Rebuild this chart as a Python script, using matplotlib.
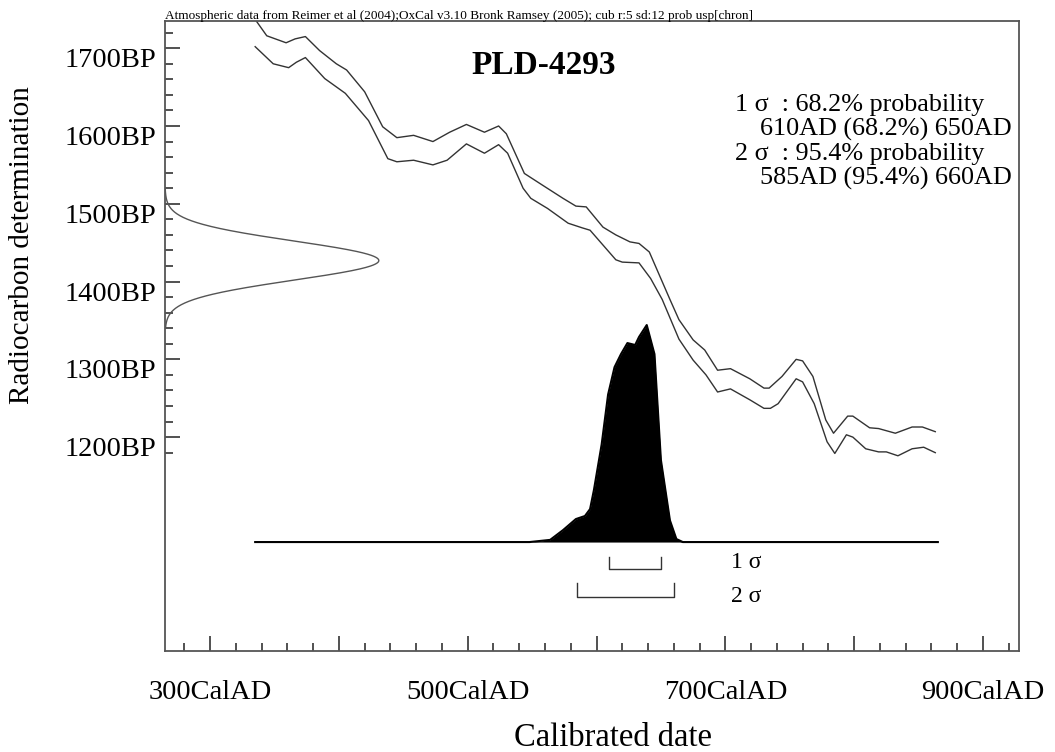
import numpy as np
import matplotlib
matplotlib.use("Agg")
import matplotlib.pyplot as plt
from matplotlib.transforms import blended_transform_factory

# ---------------- data ----------------
title = "PLD-4293"
header = ("Atmospheric data from Reimer et al (2004);OxCal v3.10 Bronk Ramsey (2005); "
          "cub r:5 sd:12 prob usp[chron]")

# radiocarbon determination (BP, 1 sd)
c14_mean = 1427
c14_sd = 25

# calibration curve, upper and lower 1-sigma envelopes (cal AD, BP)
upper_years = [335, 344, 359, 366, 374, 385, 398, 406, 420, 434, 445, 458, 473, 486, 499,
               513, 524, 530, 544, 558, 574, 584, 592, 605, 615, 626, 633, 641, 657, 664,
               675, 684, 694, 704, 719, 730, 734, 744, 755, 760, 768, 778, 784, 795, 799,
               812, 819, 832, 845, 853, 863]
upper_bp = [1737, 1716, 1707, 1712, 1715, 1697, 1680, 1672, 1644, 1599, 1585, 1588, 1580, 1592, 1602,
            1592, 1600, 1590, 1539, 1524, 1507, 1497, 1496, 1470, 1460, 1451, 1449, 1438, 1377, 1351,
            1325, 1312, 1286, 1288, 1275, 1263, 1263, 1278, 1300, 1298, 1278, 1222, 1205, 1227, 1227,
            1212, 1211, 1205, 1213, 1213, 1207]
lower_years = [335, 349, 361, 367, 374, 389, 405, 423, 438, 445, 458, 473, 484, 499, 513,
               524, 531, 543, 549, 562, 578, 589, 595, 615, 620, 633, 642, 651, 664, 675,
               685, 694, 704, 719, 730, 735, 741, 755, 760, 769, 779, 785, 794, 799, 809,
               819, 825, 834, 845, 854, 863]
lower_bp = [1702, 1680, 1675, 1682, 1688, 1661, 1642, 1607, 1558, 1554, 1556, 1550, 1556, 1577, 1565,
            1576, 1565, 1520, 1507, 1494, 1475, 1469, 1466, 1428, 1425, 1424, 1404, 1377, 1326, 1299,
            1280, 1258, 1262, 1248, 1237, 1237, 1243, 1275, 1271, 1243, 1194, 1179, 1203, 1200, 1185,
            1181, 1181, 1176, 1185, 1187, 1180]

# calibrated probability distribution (relative, %)
post_years = [335, 548, 564, 574, 584, 591, 595, 598, 604, 609, 614, 619, 624, 630, 633,
              639, 645, 650, 657, 662, 667, 865]
post_prob = [0, 0, 1, 5.5, 10.6, 12, 15.2, 24, 45, 68, 80.6, 86.6, 91.7, 90.8, 94.5,
             100, 86.6, 37.8, 10, 1.4, 0, 0]

# highest probability ranges
sigma_labels = ["1 σ", "2 σ"]
sigma_ranges = [(610, 650), (585, 660)]
summary_lines = ["1 σ  : 68.2% probability", "610AD (68.2%) 650AD",
                 "2 σ  : 95.4% probability", "585AD (95.4%) 660AD"]

x_major = [300, 400, 500, 600, 700, 800, 900]
x_labels = ["300CalAD", "", "500CalAD", "", "700CalAD", "", "900CalAD"]
y_major = [1200, 1300, 1400, 1500, 1600, 1700]
y_labels = ["1200BP", "1300BP", "1400BP", "1500BP", "1600BP", "1700BP"]

# ---------------- figure ----------------
W, H = 1055, 752
plt.rcParams['font.family'] = ['Liberation Serif', 'DejaVu Serif']
fig = plt.figure(figsize=(W / 100, H / 100), dpi=100)
fig.patch.set_facecolor('white')

def fx(px):
    return px / W

def fy(py):
    return 1 - py / H

L, R, T, B = 165, 1019, 21, 651
ax = fig.add_axes([fx(L), fy(B), fx(R) - fx(L), fy(T) - fy(B)])
ax.set_xlim(265, 928)
ax.set_ylim(925, 1735)

spine_col = '#555555'
for s in ax.spines.values():
    s.set_color(spine_col)
    s.set_linewidth(1.3)

ax.set_xticks(x_major)
ax.set_xticklabels(x_labels)
ax.set_xticks(np.arange(280, 921, 20), minor=True)
ax.set_yticks(y_major)
ax.set_yticklabels(y_labels)
ax.set_yticks(np.arange(1180, 1721, 20), minor=True)
ax.tick_params(axis='both', which='major', direction='in', length=11, width=1.1,
               color='#222222', labelsize=20.5)
ax.tick_params(axis='both', which='minor', direction='in', length=5.5, width=1.1,
               color='#222222')
ax.tick_params(axis='x', which='major', pad=21)
ax.tick_params(axis='y', which='major', pad=6)
for lbl in ax.get_yticklabels():
    lbl.set_verticalalignment('top')

# calibration curve
curve_col = '#333333'
ax.plot(upper_years, upper_bp, color=curve_col, lw=1.0, solid_joinstyle='round')
ax.plot(lower_years, lower_bp, color=curve_col, lw=1.0, solid_joinstyle='round')

# radiocarbon determination along the y axis
bp = np.linspace(1340, 1520, 400)
dens = np.exp(-0.5 * ((bp - c14_mean) / c14_sd) ** 2)
ax.plot(265 + 166 * dens, bp, color='#555555', lw=1.0)

# calibrated distribution on its own probability scale
axp = ax.twinx()
axp.set_ylim(-50.2, 240.1)
axp.axis('off')
axp.fill_between(post_years, 0, post_prob, color='black', lw=0)
axp.plot(post_years, post_prob, color='black', lw=1.5)

# sigma range brackets
tr = blended_transform_factory(ax.transData, ax.transAxes)
bracket_y = [(0.149, 0.130), (0.108, 0.0857)]
for (x0, x1), (ytop, ybot) in zip(sigma_ranges, bracket_y):
    ax.plot([x0, x0, x1, x1], [ytop, ybot, ybot, ytop], color='#333333', lw=1.0,
            transform=tr, clip_on=False)

fig.text(fx(731), fy(563), sigma_labels[0], fontsize=17, va='center', ha='left')
fig.text(fx(731), fy(596), sigma_labels[1], fontsize=17, va='center', ha='left')

# titles and texts
fig.text(fx(544), fy(66), title, fontsize=24, fontweight='bold', ha='center', va='center')
fig.text(fx(165), fy(19), header, fontsize=9.5, ha='left', va='baseline')
line_y = [105, 129, 154, 178]
line_x = [735, 760, 735, 760]
for t, x, y in zip(summary_lines, line_x, line_y):
    fig.text(fx(x), fy(y), t, fontsize=18.8, ha='left', va='center')

fig.text(fx(613), fy(738), "Calibrated date", fontsize=23.5, ha='center', va='center')
fig.text(fx(22), fy(245), "Radiocarbon determination", fontsize=21, ha='center',
         va='center', rotation=90)

fig.savefig("out.png", dpi=100)
